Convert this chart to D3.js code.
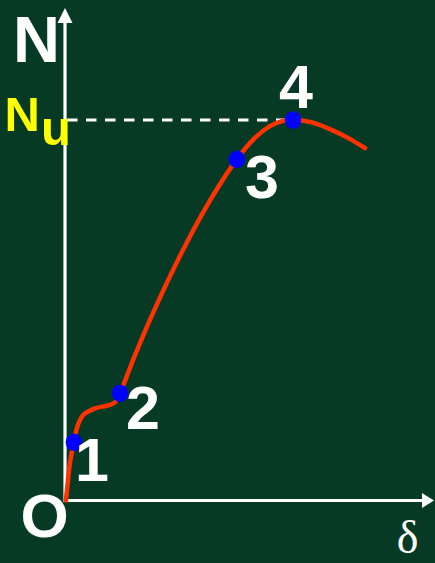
<!DOCTYPE html>
<html>
<head>
<meta charset="utf-8">
<script src="https://cdn.jsdelivr.net/npm/d3@7"></script>
<style>
  html, body { margin: 0; padding: 0; background: #073a25; }
  svg { display: block; }
</style>
</head>
<body>
<svg id="chart" width="435" height="563"></svg>
<script>
// Load–deformation curve of a compression member (N vs δ), normalised to N_u and δ at N_u
const deltaValues = [0.004, 0.013, 0.022, 0.039, 0.053, 0.079, 0.132, 0.189, 0.219, 0.241,
                     0.307, 0.395, 0.496, 0.614, 0.754,
                     0.833, 0.899, 0.952, 1.000, 1.075, 1.162, 1.241, 1.316];
const loadValues  = [0.000, 0.053, 0.100, 0.153, 0.192, 0.224, 0.242, 0.250, 0.258, 0.282,
                     0.382, 0.505, 0.633, 0.766, 0.897,
                     0.953, 0.984, 0.997, 1.000, 0.995, 0.976, 0.953, 0.926];

// Characteristic stages marked on the curve
const stageLabels = ["1", "2", "3", "4"];
const stageDelta  = [0.039, 0.241, 0.754, 1.000];
const stageLoad   = [0.153, 0.282, 0.897, 1.000];

const ultimateLoad = 1.0;

const svg = d3.select("#chart");
const W = 435, H = 563;

svg.append("rect").attr("width", W).attr("height", H).attr("fill", "#073a25");

const x = d3.scaleLinear().domain([0, 1]).range([65, 293]);
const y = d3.scaleLinear().domain([0, 1]).range([500.5, 120]);

const xMax = x.invert(434);
const yMax = y.invert(8);

// Axes with arrow heads
const axisColor = "#ffffff";
svg.append("line")
  .attr("x1", x(0)).attr("y1", y(0)).attr("x2", x(xMax) - 10).attr("y2", y(0))
  .attr("stroke", axisColor).attr("stroke-width", 3.2);
svg.append("line")
  .attr("x1", x(0)).attr("y1", y(0) + 1.5).attr("x2", x(0)).attr("y2", y(yMax) + 12)
  .attr("stroke", axisColor).attr("stroke-width", 3.2);

svg.append("path")
  .attr("d", `M${x(xMax)},${y(0)} L${x(xMax) - 12},${y(0) - 7.5} L${x(xMax) - 12},${y(0) + 7.5} Z`)
  .attr("fill", axisColor);
svg.append("path")
  .attr("d", `M${x(0)},${y(yMax)} L${x(0) - 7.5},${y(yMax) + 15} L${x(0) + 7.5},${y(yMax) + 15} Z`)
  .attr("fill", axisColor);

// Ultimate load reference line
svg.append("line")
  .attr("x1", x(0) + 2).attr("y1", y(ultimateLoad))
  .attr("x2", x(stageDelta[3])).attr("y2", y(ultimateLoad))
  .attr("stroke", "#ffffff").attr("stroke-width", 3)
  .attr("stroke-dasharray", "10.5,8.5");

// Load–deformation curve
const pts = deltaValues.map((d, i) => [d, loadValues[i]]);
const line = d3.line()
  .x(d => x(d[0])).y(d => y(d[1]))
  .curve(d3.curveCatmullRom.alpha(0.5));

svg.append("path")
  .datum(pts)
  .attr("d", line)
  .attr("fill", "none")
  .attr("stroke", "#ff3300")
  .attr("stroke-width", 4.5)
  .attr("stroke-linecap", "round");

// Stage points
svg.selectAll("ellipse.stage")
  .data(stageDelta)
  .enter().append("ellipse")
  .attr("class", "stage")
  .attr("cx", (d) => x(d))
  .attr("cy", (d, i) => y(stageLoad[i]))
  .attr("rx", 8.2).attr("ry", 8.8)
  .attr("fill", "#0000ff");

// Stage labels
const labelFont = "'Liberation Sans', Arial, Helvetica, sans-serif";
const labelOffsets = [[18, 39], [23, 36], [25, 39], [3, -12]];
svg.selectAll("text.stage")
  .data(stageLabels)
  .enter().append("text")
  .attr("class", "stage")
  .attr("x", (d, i) => x(stageDelta[i]) + labelOffsets[i][0])
  .attr("y", (d, i) => y(stageLoad[i]) + labelOffsets[i][1])
  .attr("text-anchor", "middle")
  .attr("font-family", labelFont)
  .attr("font-weight", "bold")
  .attr("font-size", 61)
  .attr("fill", "#ffffff")
  .text(d => d);

// Axis titles
svg.append("text")
  .attr("x", 13).attr("y", 62)
  .attr("font-family", labelFont).attr("font-weight", "bold")
  .attr("font-size", 65).attr("fill", "#ffffff")
  .text("N");

const nu = svg.append("text")
  .attr("x", 4.5).attr("y", 131)
  .attr("font-family", labelFont).attr("font-weight", "bold")
  .attr("font-size", 49).attr("fill", "#ffff00");
nu.append("tspan").text("N");
nu.append("tspan").attr("dy", 14).attr("dx", 1).text("u");

svg.append("text")
  .attr("x", 44.5).attr("y", 537)
  .attr("text-anchor", "middle")
  .attr("font-family", labelFont).attr("font-weight", "bold")
  .attr("font-size", 62).attr("fill", "#ffffff")
  .text("O");

svg.append("text")
  .attr("x", 407.5).attr("y", 553)
  .attr("text-anchor", "middle")
  .attr("font-family", "'Liberation Serif', 'Times New Roman', serif")
  .attr("font-size", 46).attr("fill", "#ffffff")
  .text("δ");
</script>
</body>
</html>
